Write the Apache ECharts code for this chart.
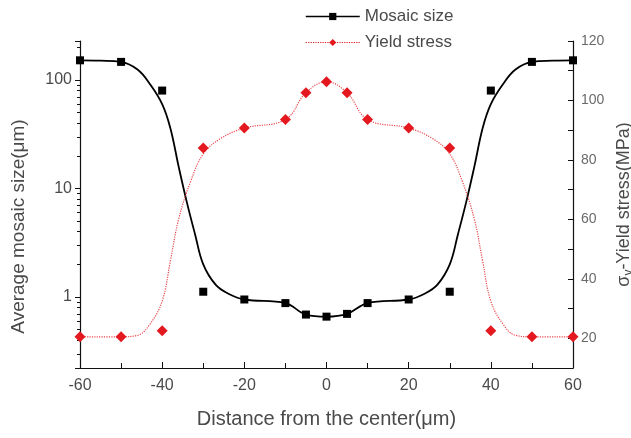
<!DOCTYPE html>
<html>
<head>
<meta charset="utf-8">
<script src="https://cdn.jsdelivr.net/npm/echarts@6/dist/echarts.min.js"></script>
<style>
  html, body { margin: 0; padding: 0; background: #fff; }
  #container { width: 631px; height: 438px; }
</style>
</head>
<body>
<div id="container"></div>
<script>
// measured points (distance from the center, um)
var distX = [-60, -50, -40, -30, -20, -10, -5, 0, 5, 10, 20, 30, 40, 50, 60]
var mosaicSize = [152, 147, 80, 1.12, 0.95, 0.88, 0.69, 0.66, 0.70, 0.88, 0.95, 1.12, 80, 147, 152]
var yieldStress = [20.5, 20.5, 22.5, 84, 90.7, 93.6, 102.6, 106.3, 102.6, 93.6, 90.7, 84, 22.5, 20.5, 20.5]

// fitted curves
var fitMosaicX = [-60, -55, -50, -46, -43, -40, -38, -36, -34, -32, -30, -27, -24, -20, -10, -5, 0, 5, 10, 20, 24, 27, 30, 32, 34, 36, 38, 40, 43, 46, 50, 55, 60]
var fitMosaic = [152, 151, 147, 125, 92, 60, 36, 16, 7.5, 3.8, 2.0, 1.3, 1.08, 0.95, 0.88, 0.69, 0.66, 0.70, 0.88, 0.95, 1.08, 1.3, 2.0, 3.8, 7.5, 16, 36, 60, 92, 125, 147, 151, 152]
var fitStressX = [-60, -50, -46, -43, -40, -38, -36, -33, -30, -26, -20, -10, -5, 0, 5, 10, 20, 26, 30, 33, 36, 38, 40, 43, 46, 50, 60]
var fitStress = [20.5, 20.5, 21, 24.7, 32.5, 46, 60, 73, 82, 87, 90.7, 93.6, 102.6, 106.3, 102.6, 93.6, 90.7, 87, 82, 73, 60, 46, 32.5, 24.7, 21, 20.5, 20.5]

function pairs(xs, ys) {
    var out = []
    for (var i = 0; i < xs.length; i++) {
        out.push([xs[i], ys[i]])
    }
    return out
}

var textColor = '#4a4a4a'
var fontFamily = 'Liberation Sans, Arial, sans-serif'
var red = '#e3191f'

var dom = document.getElementById('container')
var myChart = echarts.init(dom)

var option = {
    animation: false,
    textStyle: { fontFamily: fontFamily },
    grid: { left: 80, right: 58, top: 41, bottom: 70, outerBoundsMode: 'none', containLabel: false },
    legend: {
        orient: 'vertical',
        left: 300,
        top: 3,
        itemWidth: 54,
        itemHeight: 9,
        itemGap: 9,
        textStyle: { fontSize: 17, color: textColor, fontFamily: fontFamily },
        data: [
            { name: 'Mosaic size', lineStyle: { opacity: 1, color: '#000', width: 1.5 } },
            { name: 'Yield stress', lineStyle: { opacity: 1, color: red, width: 1.2, type: 'dotted' } }
        ]
    },
    xAxis: {
        type: 'value',
        min: -60,
        max: 60,
        interval: 20,
        name: 'Distance from the center(μm)',
        nameLocation: 'middle',
        nameGap: 41,
        nameTextStyle: { fontSize: 20, color: textColor },
        axisLine: { onZero: false, lineStyle: { color: '#111', width: 1.2 } },
        axisTick: { inside: true, length: 6, lineStyle: { color: '#111' } },
        minorTick: { show: true, splitNumber: 2, length: 5, lineStyle: { color: '#111' } },
        axisLabel: { fontSize: 16, color: textColor, margin: 10 },
        splitLine: { show: false }
    },
    yAxis: [
        {
            type: 'log',
            logBase: 10,
            min: 0.222,
            max: 229,
            position: 'left',
            name: 'Average mosaic size(μm)',
            nameLocation: 'middle',
            nameGap: 52,
            nameTextStyle: { fontSize: 19, color: textColor, padding: [0, 44, 0, 0] },
            axisLine: { show: true, onZero: false, lineStyle: { color: '#111', width: 1.2 } },
            axisTick: { show: true, length: 5, lineStyle: { color: '#111' } },
            minorTick: { show: true, splitNumber: 9, length: 3, lineStyle: { color: '#111' } },
            axisLabel: { fontSize: 16, color: textColor, showMinLabel: false, showMaxLabel: false },
            splitLine: { show: false }
        },
        {
            type: 'value',
            min: 10,
            max: 120,
            interval: 10,
            position: 'right',
            name: '{s|σ}{sub|y}{s|-Yield stress(MPa)}',
            nameLocation: 'middle',
            nameRotate: 90,
            nameGap: 36,
            nameTextStyle: {
                color: textColor,
                rich: {
                    s: { fontSize: 18, color: textColor, fontFamily: fontFamily },
                    sub: { fontSize: 12, color: textColor, verticalAlign: 'bottom', padding: [8, 0, 0, 0], fontFamily: fontFamily }
                }
            },
            axisLine: { show: true, onZero: false, lineStyle: { color: '#111', width: 1.2 } },
            axisTick: { inside: true, length: 5, lineStyle: { color: '#111' } },
            axisLabel: {
                fontSize: 14,
                color: '#6a6a6a',
                formatter: function (v) { return v % 20 === 0 ? String(v) : '' }
            },
            splitLine: { show: false }
        }
    ],
    series: [
        {
            name: 'fitMosaic',
            type: 'line',
            yAxisIndex: 0,
            data: pairs(fitMosaicX, fitMosaic),
            smooth: 0.4,
            symbol: 'none',
            silent: true,
            lineStyle: { color: '#000', width: 1.8 },
            z: 2
        },
        {
            name: 'fitStress',
            type: 'line',
            yAxisIndex: 1,
            data: pairs(fitStressX, fitStress),
            smooth: 0.4,
            symbol: 'none',
            silent: true,
            lineStyle: { color: red, width: 1.2, type: 'dotted', opacity: 0.8 },
            z: 2
        },
        {
            name: 'Mosaic size',
            type: 'line',
            yAxisIndex: 0,
            data: pairs(distX, mosaicSize),
            symbol: 'rect',
            symbolSize: 8,
            showAllSymbol: true,
            itemStyle: { color: '#000' },
            lineStyle: { opacity: 0 },
            z: 3
        },
        {
            name: 'Yield stress',
            type: 'line',
            yAxisIndex: 1,
            data: pairs(distX, yieldStress),
            symbol: 'diamond',
            symbolSize: 11,
            showAllSymbol: true,
            itemStyle: { color: red },
            lineStyle: { opacity: 0 },
            z: 3
        }
    ]
}

myChart.setOption(option)
</script>
</body>
</html>
